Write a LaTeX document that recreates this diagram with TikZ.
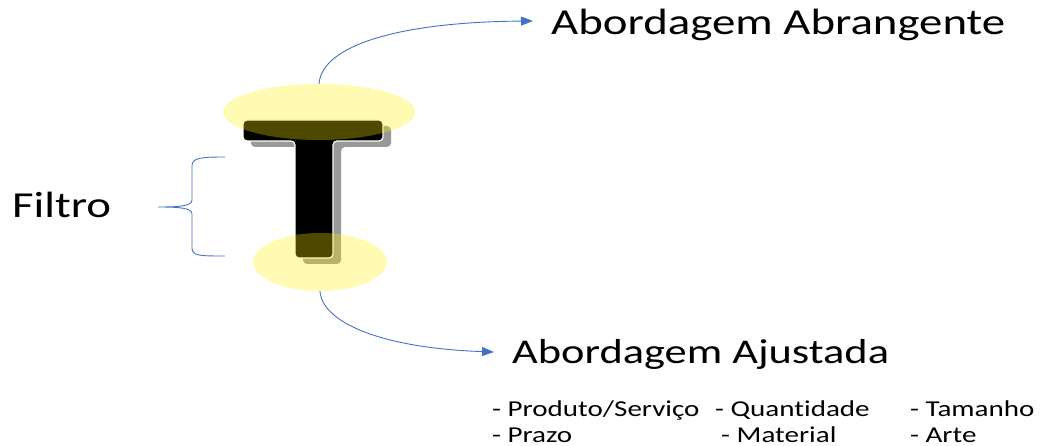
\documentclass[tikz,border=0pt]{standalone}
\usepackage{fontspec}
\setmainfont{Carlito}[FakeStretch=1.28, Ligatures=CommonOff]
\usetikzlibrary{shapes.geometric,arrows.meta}
\definecolor{linkblue}{HTML}{4472C4}
\tikzset{
  lbl/.style={inner sep=0pt, anchor=base west, text=black},
  glow/.style={ellipse, fill=yellow, fill opacity=0.3, draw=none, inner sep=0pt},
  conn/.style={draw=linkblue, line width=0.9pt, -{Triangle[length=12pt,width=9pt]}},
  bracestyle/.style={draw=linkblue, line width=0.9pt},
}
\begin{document}
\begin{tikzpicture}[x=1pt,y=-1pt]
\useasboundingbox (0,0) rectangle (1047,446);
% T shadow
\fill[black!40, rounded corners=4pt, shift={(8,6)}]
  (243,120) -- (383,120) -- (383,141) -- (333,141) -- (333,258) -- (295,258) -- (295,141) -- (243,141) -- cycle;
% T
\filldraw[fill=black, draw=white, line width=1.2pt, rounded corners=4pt]
  (243,120) -- (383,120) -- (383,141) -- (333,141) -- (333,258) -- (295,258) -- (295,141) -- (243,141) -- cycle;
% glows
\node[glow, minimum width=192pt, minimum height=56pt] (top) at (319,112) {};
\node[glow, minimum width=134pt, minimum height=58pt] (bot) at (320,262) {};
% texts
\node[lbl, font=\fontsize{36.6}{40}\selectfont] (abr) at (551,35) {Abordagem Abrangente};
\node[lbl, font=\fontsize{34.7}{38}\selectfont] (aju) at (512,363) {Abordagem Ajustada};
\node[lbl, font=\fontsize{36.6}{40}\selectfont] (filtro) at (12,218) {Filtro};
\node[lbl, font=\fontsize{22.7}{26}\selectfont] (l1) at (492,416) {- Produto/Serviço};
\node[lbl, font=\fontsize{22.7}{26}\selectfont] (l2) at (715,416) {- Quantidade};
\node[lbl, font=\fontsize{22.7}{26}\selectfont] (l3) at (910,416) {- Tamanho};
\node[lbl, font=\fontsize{22.7}{26}\selectfont] (l4) at (492,442) {- Prazo};
\node[lbl, font=\fontsize{22.7}{26}\selectfont] (l5) at (721,442) {- Material};
\node[lbl, font=\fontsize{22.7}{26}\selectfont] (l6) at (910,442) {- Arte};
% arrow tips
\coordinate (tipA) at (533,21);
\coordinate (tipB) at (494,352);
\draw[conn] (top.north) .. controls (322,45) and (400,22) .. (tipA);
\draw[conn] (bot.south) .. controls (322,322) and (380,348) .. (tipB);
% brace
\coordinate (bracetip) at (158,207);
\draw[bracestyle] (225,157) .. controls (200,157) and (192,158) .. (192,166) -- (192,200)
  .. controls (192,206) and (180,207) .. (bracetip)
  .. controls (180,207) and (192,208) .. (192,214) -- (192,248)
  .. controls (192,256) and (200,256) .. (225,256);
\end{tikzpicture}
\end{document}
